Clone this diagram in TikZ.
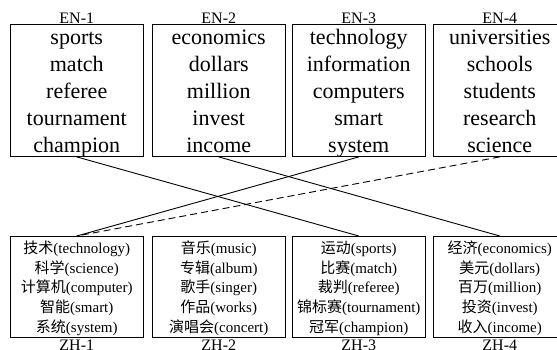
\documentclass[tikz,border=0pt]{standalone}
\usepackage{fontspec}
\setmainfont{Liberation Serif}
\newfontfamily\cjk{Noto Sans CJK SC}
\usetikzlibrary{positioning}

\tikzset{
  enbox/.style={draw, line width=0.9pt, inner sep=0pt, minimum width=133.5pt,
    align=center, font=\fontsize{22}{27}\selectfont, text height=128pt, text depth=4pt},
  zhbox/.style={draw, line width=0.9pt, inner sep=0pt, minimum width=133.5pt,
    align=center, font=\fontsize{15}{19.75}\selectfont, text height=96pt, text depth=5pt},
  tag/.style={inner sep=0pt, anchor=base, font=\fontsize{16}{16}\selectfont}
}

\begin{document}
\begin{tikzpicture}[x=1pt, y=-1pt]
\clip (0,0) rectangle (557,349);
% english topics
\node[enbox] (en1) at (76.75,24) [anchor=north] {sports\\match\\referee\\tournament\\champion};
\node[enbox] (en2) at (218.75,24) [anchor=north] {economics\\dollars\\million\\invest\\income};
\node[enbox] (en3) at (358.75,24) [anchor=north] {technology\\information\\computers\\smart\\system};
\node[enbox] (en4) at (499.75,24) [anchor=north] {universities\\schools\\students\\research\\science};
\node[tag] (t-en1) at (76.75,23.3) {EN-1};
\node[tag] (t-en2) at (218.75,23.3) {EN-2};
\node[tag] (t-en3) at (358.75,23.3) {EN-3};
\node[tag] (t-en4) at (499.75,23.3) {EN-4};
% chinese topics
\node[zhbox] (zh1) at (76.75,236) [anchor=north] {{\cjk 技术}(technology)\\{\cjk 科学}(science)\\{\cjk 计算机}(computer)\\{\cjk 智能}(smart)\\{\cjk 系统}(system)};
\node[zhbox] (zh2) at (218.75,236) [anchor=north] {{\cjk 音乐}(music)\\{\cjk 专辑}(album)\\{\cjk 歌手}(singer)\\{\cjk 作品}(works)\\{\cjk 演唱会}(concert)};
\node[zhbox] (zh3) at (358.75,236) [anchor=north] {{\cjk 运动}(sports)\\{\cjk 比赛}(match)\\{\cjk 裁判}(referee)\\{\cjk 锦标赛}(tournament)\\{\cjk 冠军}(champion)};
\node[zhbox] (zh4) at (499.75,236) [anchor=north] {{\cjk 经济}(economics)\\{\cjk 美元}(dollars)\\{\cjk 百万}(million)\\{\cjk 投资}(invest)\\{\cjk 收入}(income)};
\node[tag] (t-zh1) at (76.75,350) {ZH-1};
\node[tag] (t-zh2) at (218.75,350) {ZH-2};
\node[tag] (t-zh3) at (358.75,350) {ZH-3};
\node[tag] (t-zh4) at (499.75,350) {ZH-4};
% alignments
\path[line width=0.9pt]
  (en1.south) edge (zh3.north)
  (en2.south) edge (zh4.north)
  (en3.south) edge (zh1.north);
\draw[line width=0.9pt, dash pattern=on 7pt off 4pt] (en4.south) -- (zh1.north);
\end{tikzpicture}
\end{document}
